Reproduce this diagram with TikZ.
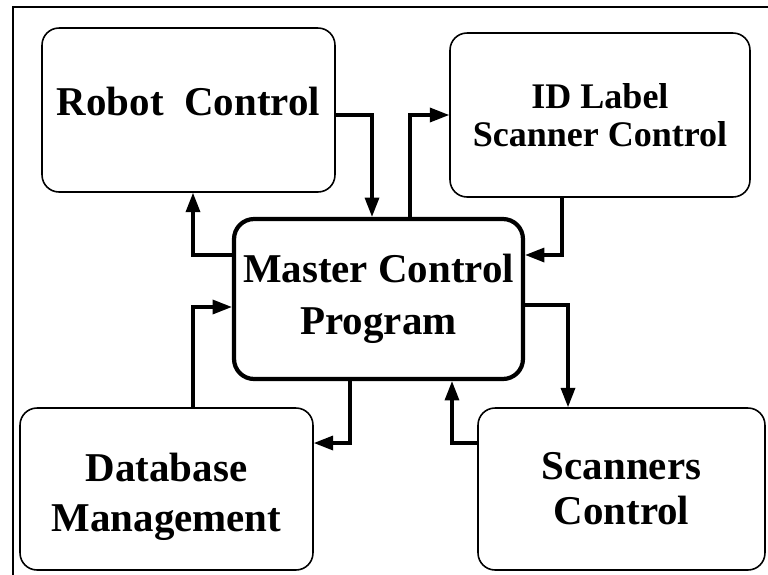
\documentclass[tikz,border=0pt]{standalone}
\usepackage{fontspec}
\setmainfont{Liberation Serif}
\usetikzlibrary{arrows.meta}

\begin{document}
\begin{tikzpicture}[x=0.02cm, y=-0.02cm,
		unit/.style={rectangle, draw, line width=0.9pt, rounded corners=0.34cm, align=center,
			font=\bfseries\fontsize{23.3}{28.5}\selectfont},
		master/.style={unit, line width=2.4pt, rounded corners=0.4cm,
			font=\bfseries\fontsize{23.3}{29.6}\selectfont},
		flow/.style={line width=1.8pt, -{Triangle[length=11pt, width=8pt]}}]
				\useasboundingbox (0,0) rectangle (768,575);
				\draw[line width=1.2pt] (13,575) -- (13,7) -- (768,7);

				\node[unit, minimum width=5.86cm, minimum height=3.28cm, text depth=0.36cm] (robot) at (188.5,110) {Robot\ \ Control};
				\node[unit, minimum width=6cm, minimum height=3.28cm, font=\bfseries\fontsize{20.5}{21.6}\selectfont] (idscan) at (600,115) {ID Label\\Scanner Control};
				\node[master, minimum width=5.78cm, minimum height=3.2cm] (master) at (378.5,299) {Master Control\\Program};
				\node[unit, minimum width=5.86cm, minimum height=3.24cm, text height=1.9cm] (db) at (166.5,489) {Database\\Management};
				\node[unit, minimum width=5.74cm, minimum height=3.24cm, font=\bfseries\fontsize{23.3}{25.6}\selectfont] (scan) at (621.5,489) {Scanners\\Control};

				\draw[flow] ([yshift=-0.1cm]robot.east) -| ([xshift=-0.13cm]master.north);
				\draw[flow] ([yshift=0.88cm]master.west) -| ([xshift=0.09cm]robot.south);
				\draw[flow] ([xshift=0.63cm]master.north) |- (idscan.west);
				\draw[flow] ([xshift=-0.76cm]idscan.south) |- ([yshift=0.88cm]master.east);
				\draw[flow] ([yshift=-0.12cm]master.east) -| ([xshift=-1.07cm]scan.north);
				\draw[flow] ([yshift=0.92cm]scan.west) -| ([xshift=1.47cm]master.south);
				\draw[flow] ([xshift=-0.57cm]master.south) |- ([yshift=0.92cm]db.east);
				\draw[flow] ([xshift=0.53cm]db.north) |- ([yshift=-0.16cm]master.west);
			\end{tikzpicture}
\end{document}
